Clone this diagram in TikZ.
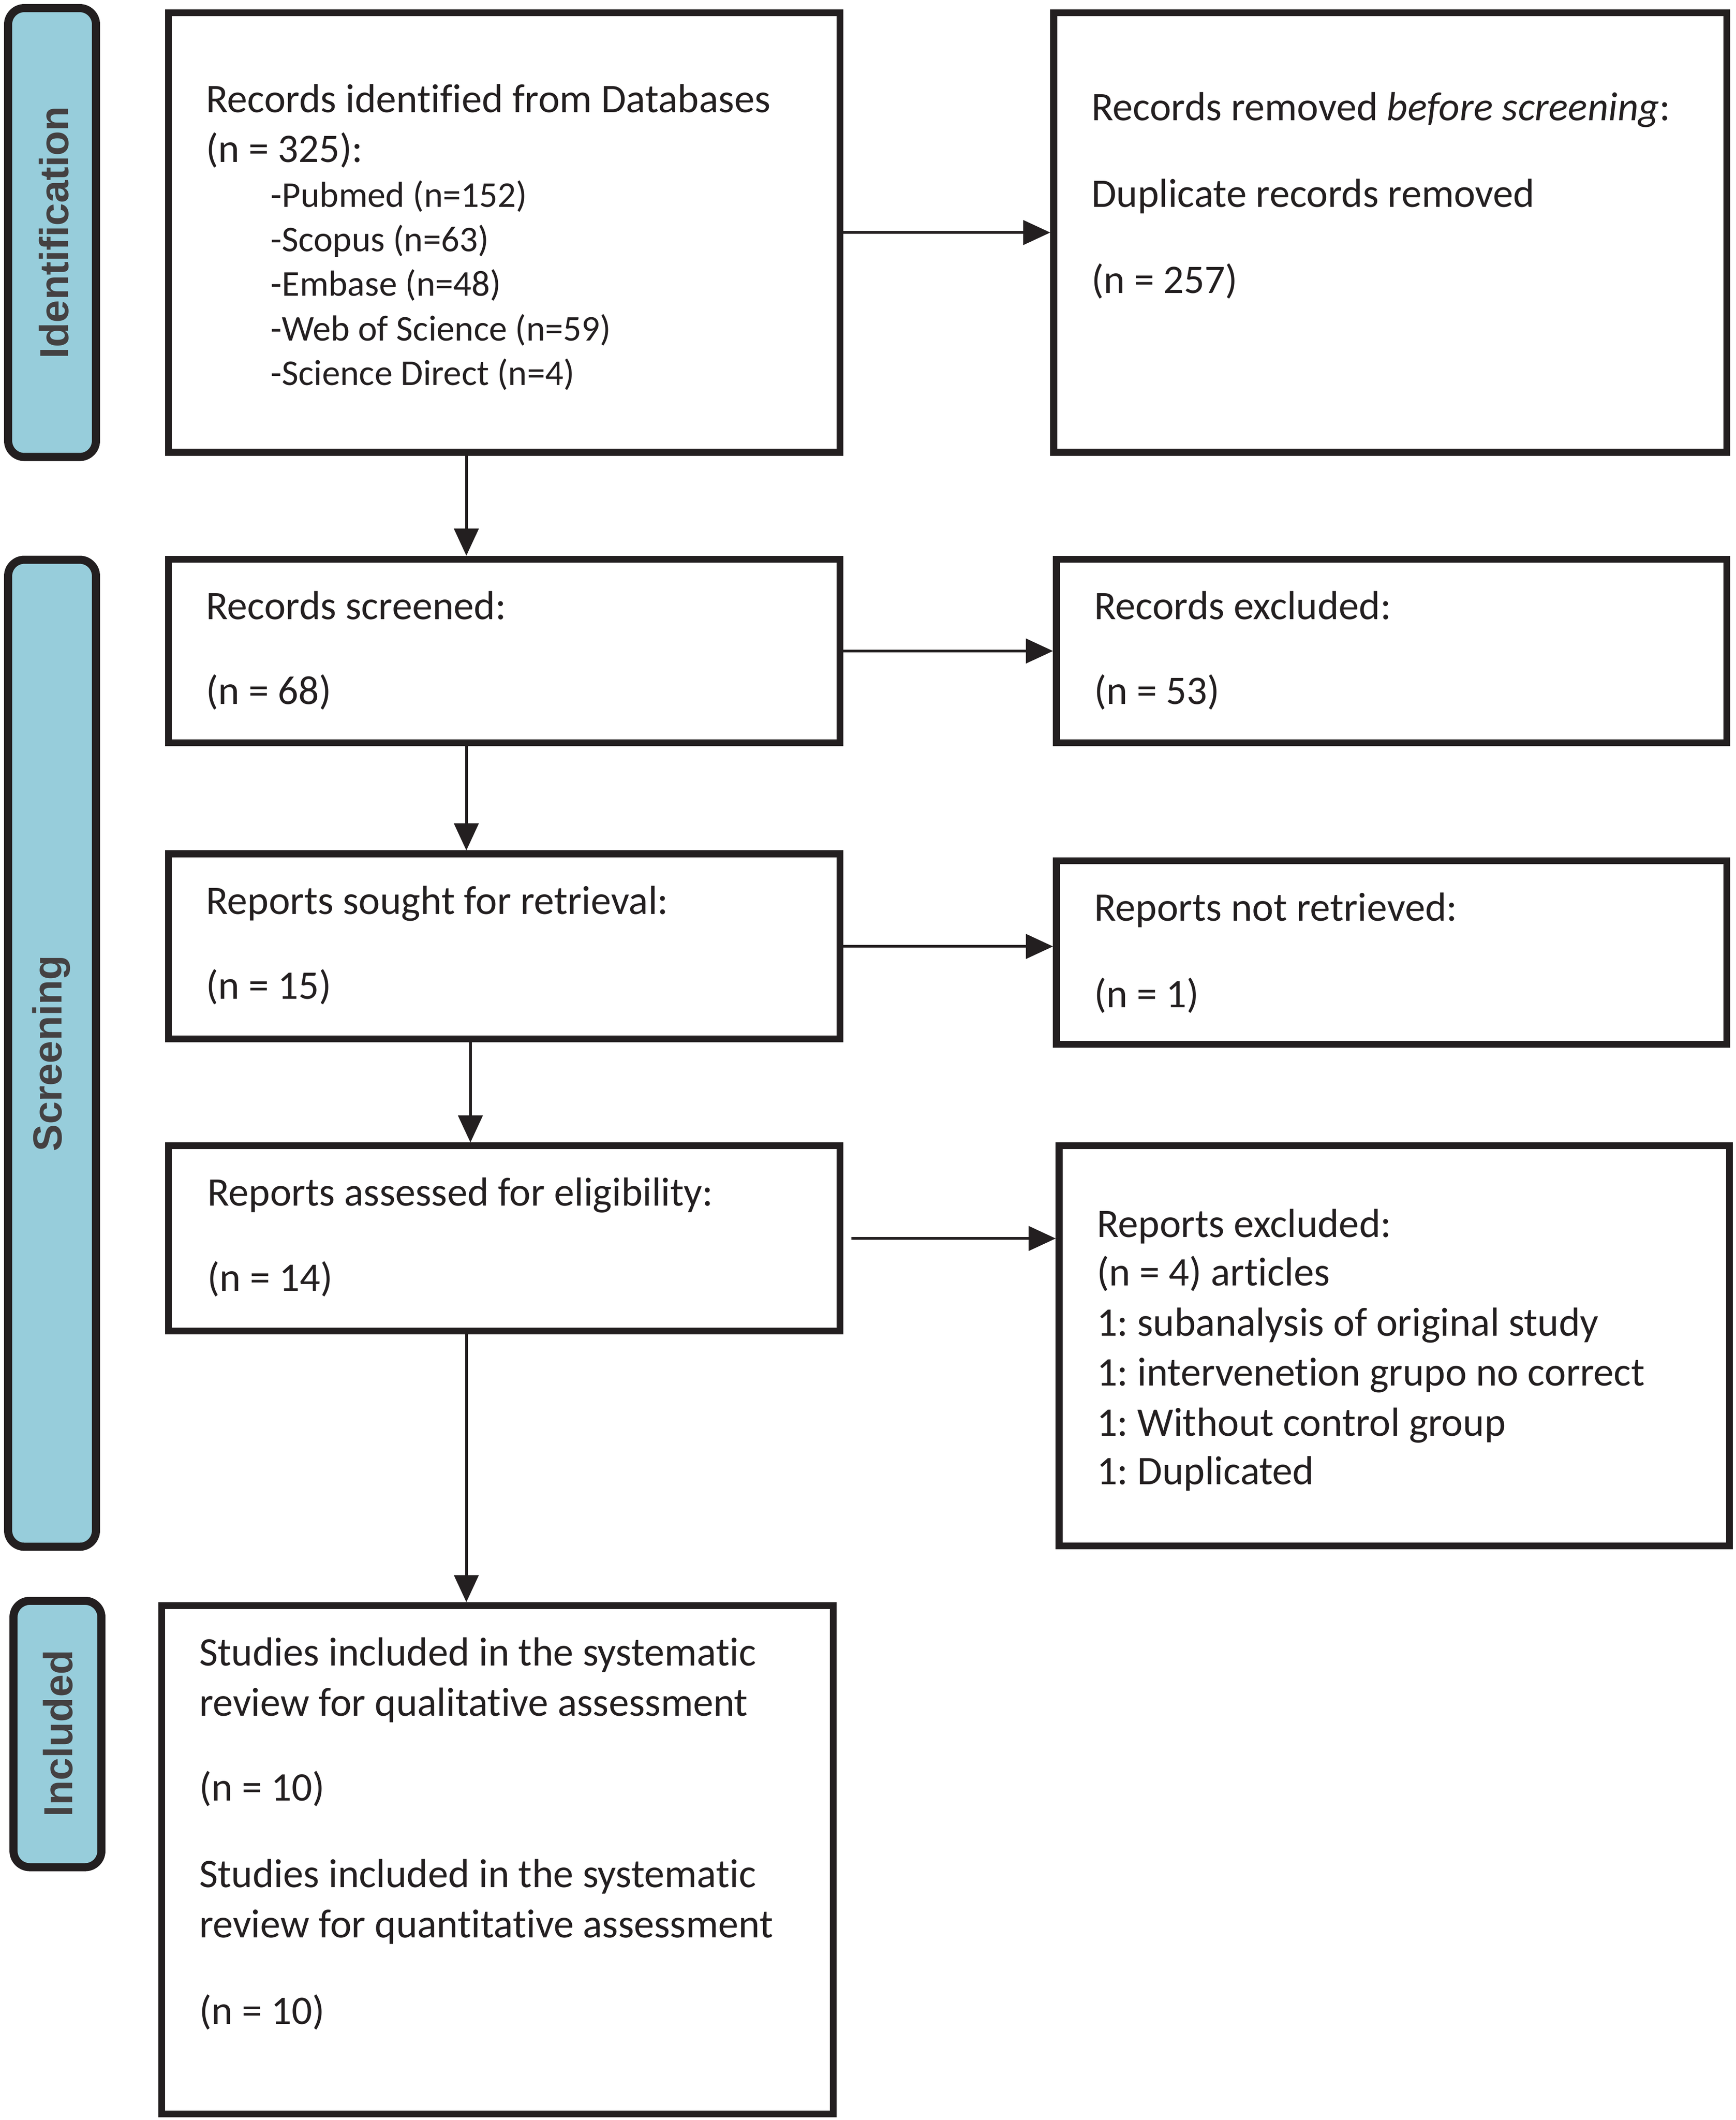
\documentclass[tikz,border=0pt]{standalone}
\usepackage{fontspec}
\setmainfont{Carlito}[Ligatures={NoCommon}]
\newfontfamily\sidefont{Liberation Sans}
\usetikzlibrary{arrows.meta,fit}
\definecolor{ink}{HTML}{231F20}
\definecolor{sideblue}{HTML}{97CDDB}
\frenchspacing
\tikzset{
  box/.style={draw=ink, line width=2.5pt, inner sep=0pt, rectangle},
  sidebar/.style={draw=ink, fill=sideblue, line width=3pt, rounded corners=6pt, inner sep=0pt, rectangle},
  sidetext/.style={rotate=90, text=ink!85, font=\sidefont\bfseries\fontsize{15}{18}\selectfont, inner sep=0pt},
  txt/.style={anchor=base west, inner sep=0pt, text=ink, font=\fontsize{15}{18}\selectfont},
  subtxt/.style={anchor=base west, inner sep=0pt, text=ink, font=\fontsize{13.4}{16}\selectfont},
  arr/.style={draw=ink, line width=1pt, -{Triangle[length=10pt,width=9pt]}}
}
\begin{document}
\begin{tikzpicture}[x=0.5pt,y=-0.5pt]
\useasboundingbox (0,0) rectangle (1284,1568);
% side bars
\node[sidebar, fit={(6,6) (71,338)}] (sid) {};
\node[sidebar, fit={(6,414) (71,1144)}] (sscr) {};
\node[sidebar, fit={(10,1184) (75,1381)}] (sinc) {};
\node[sidetext] (tid) at (40,172) {Identification};
\node[sidetext] (tscr) at (38,779) {Screening};
\node[sidetext] (tinc) at (43,1282) {Included};
% boxes
\node[box, fit={(124.5,9.5) (621.5,334.5)}] (b1) {};
\node[box, fit={(779.5,9.5) (1277.5,334.5)}] (b2) {};
\node[box, fit={(124.5,413.5) (621.5,549.5)}] (b3) {};
\node[box, fit={(781.5,413.5) (1277.5,549.5)}] (b4) {};
\node[box, fit={(124.5,631.5) (621.5,768.5)}] (b5) {};
\node[box, fit={(781.5,636.5) (1277.5,772.5)}] (b6) {};
\node[box, fit={(124.5,847.5) (621.5,984.5)}] (b7) {};
\node[box, fit={(783.5,847.5) (1279.5,1143.5)}] (b8) {};
\node[box, fit={(119.5,1187.5) (616.5,1563.5)}] (b9) {};
% box texts
\node[txt] (t1a) at (152,83) {Records identified from Databases};
\node[txt] (t1b) at (152,120) {(n = 325):};
\node[subtxt] (t1c) at (200,153) {-Pubmed (n=152)};
\node[subtxt] (t1d) at (200,186) {-Scopus (n=63)};
\node[subtxt] (t1e) at (200,219) {-Embase (n=48)};
\node[subtxt] (t1f) at (200,252) {-Web of Science (n=59)};
\node[subtxt] (t1g) at (200,285) {-Science Direct (n=4)};
\node[txt] (t2a) at (807,89) {Records removed \textit{before screening}:};
\node[txt] (t2b) at (807,153) {Duplicate records removed};
\node[txt] (t2c) at (807,217) {(n = 257)};
\node[txt] (t3a) at (152,458) {Records screened:};
\node[txt] (t3b) at (152,521) {(n = 68)};
\node[txt] (t4a) at (809,458) {Records excluded:};
\node[txt] (t4b) at (809,521) {(n = 53)};
\node[txt] (t5a) at (152,676) {Reports sought for retrieval:};
\node[txt] (t5b) at (152,739) {(n = 15)};
\node[txt] (t6a) at (809,681) {Reports not retrieved:};
\node[txt] (t6b) at (809,745) {(n = 1)};
\node[txt] (t7a) at (153,892) {Reports assessed for eligibility:};
\node[txt] (t7b) at (153,955) {(n = 14)};
\node[txt] (t8a) at (811,915) {Reports excluded:};
\node[txt] (t8b) at (811,951) {(n = 4) articles};
\node[txt] (t8c) at (811,988) {1: subanalysis of original study};
\node[txt] (t8d) at (811,1025) {1: intervenetion grupo no correct};
\node[txt] (t8e) at (811,1062) {1: Without control group};
\node[txt] (t8f) at (811,1098) {1: Duplicated};
\node[txt] (t9a) at (147,1232) {Studies included in the systematic};
\node[txt] (t9b) at (147,1269) {review for qualitative assessment};
\node[txt] (t9c) at (147,1332) {(n = 10)};
\node[txt] (t9d) at (147,1396) {Studies included in the systematic};
\node[txt] (t9e) at (147,1433) {review for quantitative assessment};
\node[txt] (t9f) at (147,1497) {(n = 10)};
% arrow columns
\coordinate (cx1) at (345,0);
\coordinate (cx2) at (348,0);
% connectors
\draw[arr] (b1.east) -- (b2.west |- b1.east);
\draw[arr] (b1.south -| cx1) -- (b3.north -| cx1);
\draw[arr] (b3.east) -- (b4.west |- b3.east);
\draw[arr] (b3.south -| cx1) -- (b5.north -| cx1);
\draw[arr] (b5.east) -- (b6.west |- b5.east);
\draw[arr] (b5.south -| cx2) -- (b7.north -| cx2);
\draw[arr] ([xshift=3pt]b7.east) -- (b8.west |- b7.east);
\draw[arr] (b7.south -| cx1) -- (b9.north -| cx1);
\end{tikzpicture}
\end{document}
